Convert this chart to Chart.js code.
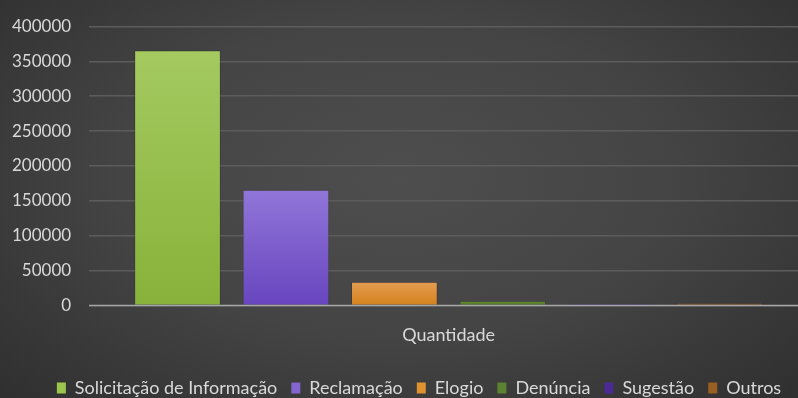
<!DOCTYPE html>
<html>
<head>
<meta charset="utf-8">
<script src="https://cdn.jsdelivr.net/npm/chart.js@4/dist/chart.umd.min.js"></script>
<style>
  html, body { margin: 0; padding: 0; }
  body {
    width: 798px; height: 398px; overflow: hidden;
    background: radial-gradient(ellipse 70% 80% at 50% 45%, #4e4e4e 0%, #444 50%, #2f2f2f 100%);
  }
  #wrap { width: 808px; height: 398px; position: relative; }
</style>
</head>
<body>
<div id="wrap"><canvas id="grafico"></canvas></div>
<script>
// Dados
const categorias = ['Quantidade'];
const series = ['Solicitação de Informação', 'Reclamação', 'Elogio', 'Denúncia', 'Sugestão', 'Outros'];
const valores = [366000, 166000, 34000, 6500, 2500, 3500];
const ticksY = [0, 50000, 100000, 150000, 200000, 250000, 300000, 350000, 400000];

// cores (topo, base) para o degradê de cada barra
const coresTopo = ['#a4ca60', '#9176d8', '#e39d52', '#628a30', '#55309e', '#a0642a'];
const coresBase = ['#88b23a', '#6845bf', '#d4811c', '#55782a', '#45238a', '#8c5418'];
const coresLegenda = ['#9cc550', '#8465d0', '#e0922e', '#5b8230', '#4b2a94', '#985e22'];

const FONTE = 'Lato, "Open Sans", sans-serif';

function degrade(i) {
  return (ctx) => {
    const area = ctx.chart.chartArea;
    if (!area) return coresTopo[i];
    const y = ctx.chart.scales.y;
    const topo = y.getPixelForValue(valores[i]);
    const g = ctx.chart.ctx.createLinearGradient(0, Math.min(topo, area.bottom - 1), 0, area.bottom);
    g.addColorStop(0, coresTopo[i]);
    g.addColorStop(1, coresBase[i]);
    return g;
  };
}

const linhaZero = {
  id: 'linhaZero',
  afterDatasetsDraw(chart) {
    const { ctx, chartArea, scales: { y } } = chart;
    const py = Math.round(y.getPixelForValue(0)) + 0.5;
    ctx.save();
    ctx.strokeStyle = '#a6a6a6';
    ctx.lineWidth = 1.5;
    ctx.beginPath();
    ctx.moveTo(chartArea.left, py);
    ctx.lineTo(chartArea.right, py);
    ctx.stroke();
    ctx.restore();
  }
};

// a legenda do original fica um pouco à direita do centro
const desviaLegenda = {
  id: 'desviaLegenda',
  afterLayout(chart) {
    chart.legend.left += 36;
  }
};

new Chart(document.getElementById('grafico').getContext('2d'), {
  type: 'bar',
  data: {
    labels: categorias,
    datasets: series.map((nome, i) => ({
      label: nome,
      data: [valores[i]],
      backgroundColor: degrade(i),
      borderColor: 'rgba(0,0,0,0.15)',
      borderWidth: 1,
      barPercentage: 0.8,
      categoryPercentage: 0.905,
    }))
  },
  options: {
    animation: false,
    responsive: true,
    maintainAspectRatio: false,
    layout: { padding: { top: 4, right: 0, left: -6, bottom: -9 } },
    plugins: {
      legend: {
        position: 'bottom',
        labels: {
          color: '#d9d9d9',
          font: { size: 18, family: FONTE, lineHeight: 1 },
          boxWidth: 9,
          boxHeight: 11,
          padding: 14,
          generateLabels: (chart) => series.map((nome, i) => ({
            text: nome,
            fillStyle: coresLegenda[i],
            strokeStyle: coresLegenda[i],
            lineWidth: 0,
            fontColor: '#d9d9d9',
            datasetIndex: i,
          }))
        }
      },
      tooltip: { enabled: false },
    },
    scales: {
      x: {
        grid: { display: false, drawTicks: false },
        border: { display: false },
        ticks: { color: '#d9d9d9', font: { size: 18, family: FONTE }, padding: 19 },
      },
      y: {
        min: 0,
        max: 400000,
        afterBuildTicks: (axis) => { axis.ticks = ticksY.map(v => ({ value: v })); },
        grid: { color: '#5c5c5c', lineWidth: 1.5, drawTicks: false },
        border: { display: false },
        ticks: {
          color: '#d9d9d9', font: { size: 17, family: FONTE, lineHeight: 1 }, padding: 18,
          callback: (v) => String(v),
        },
      }
    }
  },
  plugins: [linhaZero, desviaLegenda]
});
</script>
</body>
</html>
